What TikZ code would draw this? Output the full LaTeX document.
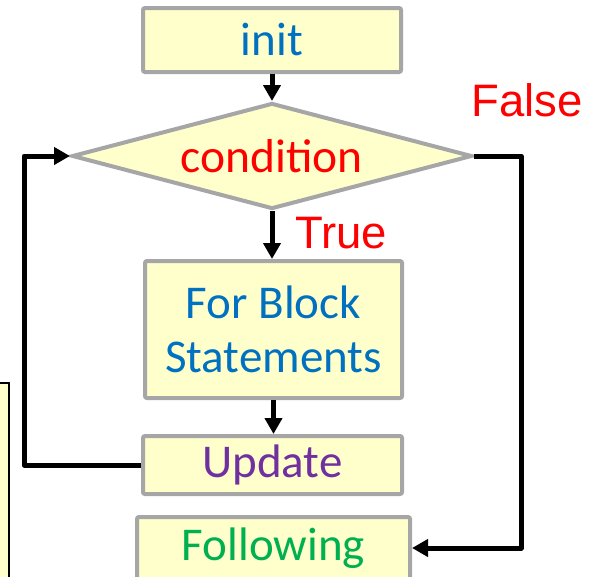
\documentclass[tikz,border=0pt]{standalone}
\usepackage{fontspec}
\setmainfont{Carlito}
\newfontfamily\arialfont{Liberation Sans}
\usetikzlibrary{shapes.geometric,arrows.meta}

\definecolor{boxfill}{HTML}{FFFFCC}
\definecolor{boxline}{HTML}{A6A6A6}
\definecolor{txtblue}{HTML}{0070C0}
\definecolor{txtpurple}{HTML}{7030A0}
\definecolor{txtgreen}{HTML}{00B050}
\definecolor{txtred}{HTML}{FF0000}

\tikzset{
  flowbox/.style={draw=boxline, fill=boxfill, line width=4pt, rounded corners=2pt,
    inner sep=0pt, align=center, font=\fontsize{47}{54}\selectfont},
  decision/.style={diamond, draw=boxline, fill=boxfill, line width=4pt,
    inner sep=0pt, aspect=3.77, minimum width=400pt, minimum height=106pt,
    font=\fontsize{47.5}{54}\selectfont},
  flow/.style={line width=5pt, line join=round, -{Triangle[length=16pt,width=17pt]}},
  flowlabel/.style={text=txtred, font=\arialfont\fontsize{45.5}{54}\selectfont, inner sep=0pt}
}

\begin{document}
\begin{tikzpicture}[x=1pt,y=-1pt]
  \clip (0,0) rectangle (596,576);
  \fill[white] (0,0) rectangle (596,576);

  % partial box at the left edge
  \draw[line width=1.5pt, fill=boxfill] (-20,383) rectangle (9,600);

  % flowchart nodes
  \node[flowbox, text=txtblue, minimum width=258pt, minimum height=64pt] (init) at (272,40) {init};
  \node[decision, text=txtred] (cond) at (272,156) {condition};
  \node[flowbox, text=txtblue, minimum width=257pt, minimum height=137pt] (body) at (273.5,329.5) {For Block\\Statements};
  \node[flowbox, text=txtpurple, minimum width=259pt, minimum height=58pt] (update) at (272.5,465) {Update};
  \node[flowbox, text=txtgreen, minimum width=273pt, minimum height=62pt] (follow) at (273.5,548) {Following};

  % bend points of the loop-back and exit lines
  \coordinate (loopc) at (24,465);
  \coordinate (exitc) at (521,156);

  % connectors
  \draw[flow] (init) -- (cond.north);
  \draw[flow] (cond.south) -- (cond.south |- body.north);
  \draw[flow] (body.south) -- (body.south |- update.north);
  \draw[flow] (update.west) -- (loopc) |- (cond.west);
  \draw[flow] (cond.east) -- (exitc) |- (follow.east);

  % branch labels
  \node[flowlabel] (truelbl) at (341,233) {True};
  \node[flowlabel] (falselbl) at (527,100) {False};
\end{tikzpicture}
\end{document}
